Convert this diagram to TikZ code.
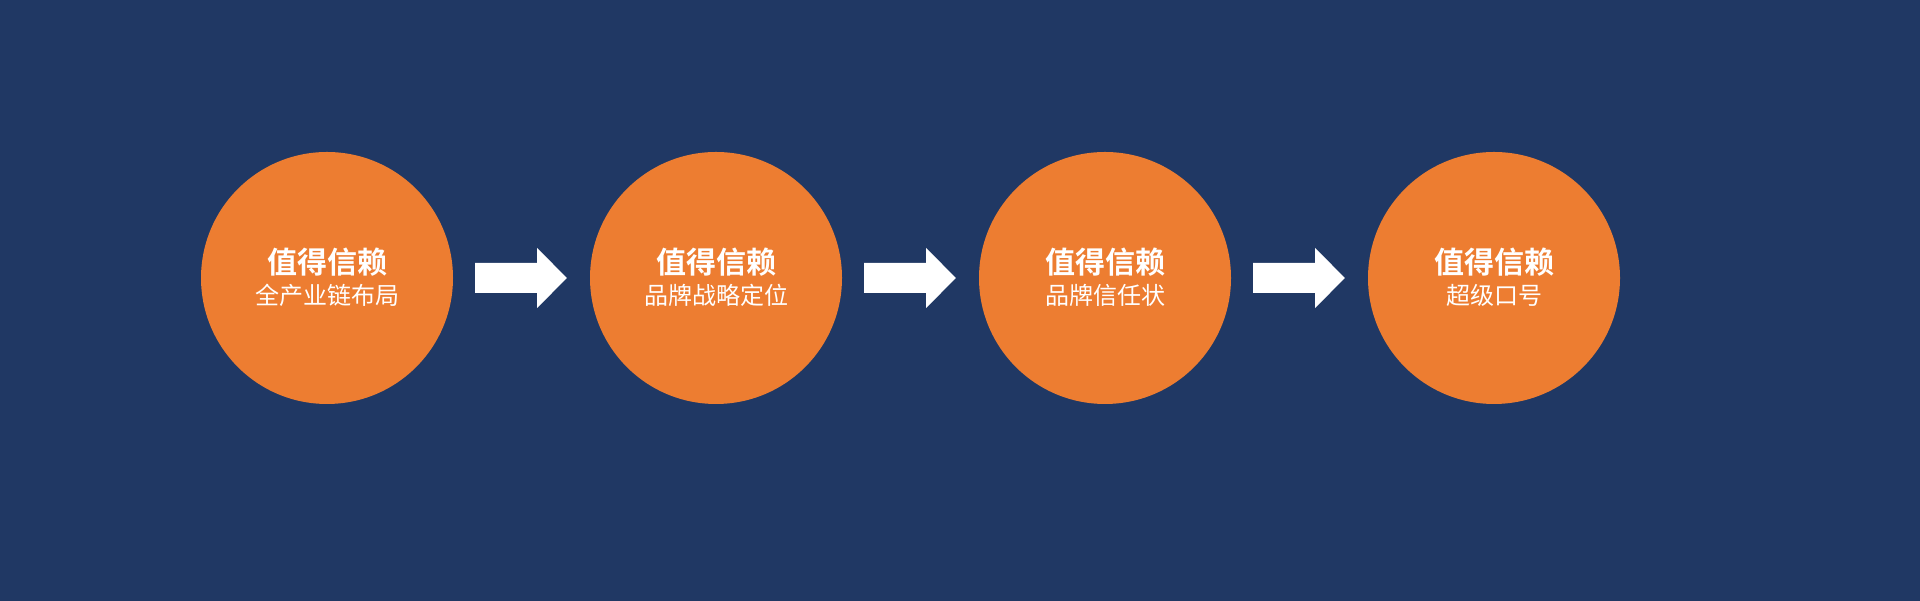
\documentclass[tikz,border=0pt]{standalone}
\usepackage{fontspec}
\newfontfamily\cjkreg{Noto Sans CJK SC}
\newfontfamily\cjkbold{Noto Sans CJK SC Bold}
\usetikzlibrary{calc}
\definecolor{navy}{HTML}{203864}
\definecolor{orng}{HTML}{ED7D31}
\tikzset{
  stagecircle/.style={circle,fill=orng,minimum size=252pt,inner sep=0pt},
  titletext/.style={text=white,font=\cjkbold\fontsize{30pt}{30pt}\selectfont,anchor=base,inner sep=0pt},
  subtext/.style={text=white,font=\cjkreg\fontsize{24pt}{24pt}\selectfont,anchor=base,inner sep=0pt},
  blockarrow/.style={fill=white}
}
\begin{document}
\begin{tikzpicture}[x=1pt,y=1pt]
\fill[navy] (0,0) rectangle (1920,601);
\useasboundingbox (0,0) rectangle (1920,601);
\foreach \i/\cx/\sub in {1/327/全产业链布局,2/716/品牌战略定位,3/1105/品牌信任状,4/1494/超级口号}{
  \node[stagecircle] (c\i) at (\cx,323) {};
  \node[titletext] (t\i) at ($(c\i.center)+(0,4)$) {值得信赖};
  \node[subtext] (s\i) at ($(c\i.center)+(0,-26.5)$) {\sub};
}
\foreach \a/\b in {1/2,2/3,3/4}{
  \fill[blockarrow] ($(c\a.east)+(22,15)$) -- ($(c\a.east)+(84,15)$) -- ($(c\a.east)+(84,30)$)
    -- ($(c\b.west)+(-23,0)$) -- ($(c\a.east)+(84,-30)$) -- ($(c\a.east)+(84,-15)$)
    -- ($(c\a.east)+(22,-15)$) -- cycle;
}
\end{tikzpicture}
\end{document}
